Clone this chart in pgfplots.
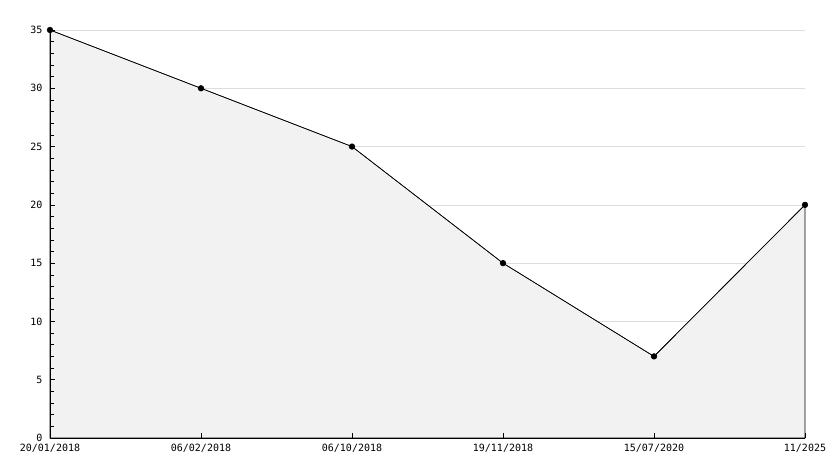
\documentclass[border=0pt]{standalone}
\usepackage{fontspec}
\setmonofont{DejaVu Sans Mono}
\usepackage{pgfplots}
\pgfplotsset{compat=1.18}
\definecolor{fillgray}{HTML}{F2F2F2}
\definecolor{gridgray}{HTML}{DDDDDD}
\begin{document}
\begin{tikzpicture}
% grid only, underneath
\begin{axis}[
  scale only axis,
  width=755bp, height=408bp,
  xmin=0, xmax=5, ymin=0, ymax=35,
  axis line style={draw=none},
  xtick=\empty,
  ytick={5,10,15,20,25,30,35},
  yticklabels={},
  major tick length=0pt,
  ymajorgrids, grid style={gridgray, line width=0.6pt},
]
\end{axis}
% data, ticks and labels on top
\begin{axis}[
  axis on top,
  scale only axis,
  width=755bp, height=408bp,
  xmin=0, xmax=5, ymin=0, ymax=35,
  axis x line*=bottom, axis y line*=left,
  axis line style={black, line width=0.8pt, -},
  xtick={0,1,2,3,4,5},
  xticklabels={20/01/2018,06/02/2018,06/10/2018,19/11/2018,15/07/2020,11/2025},
  ytick={0,5,10,15,20,25,30,35},
  minor y tick num=4,
  tick align=inside,
  major tick length=5bp, minor tick length=4bp,
  tick style={black, line width=0.6pt},
  tick label style={font=\ttfamily\fontsize{10bp}{12bp}\selectfont},
  /pgf/number format/assume math mode=true,
  xticklabel style={yshift=-3bp},
  yticklabel style={xshift=-4bp},
  clip=false,
]
\addplot[fill=fillgray, draw=black, line width=0.6pt] coordinates {(0,35) (1,30) (2,25) (3,15) (4,7) (5,20)} \closedcycle;
\addplot[black, line width=0.6pt, mark=*, mark size=2.8bp] coordinates {(0,35) (1,30) (2,25) (3,15) (4,7) (5,20)};
\end{axis}
\path[use as bounding box] (-50bp,-30bp) rectangle (784bp,438bp);
\end{tikzpicture}
\end{document}
